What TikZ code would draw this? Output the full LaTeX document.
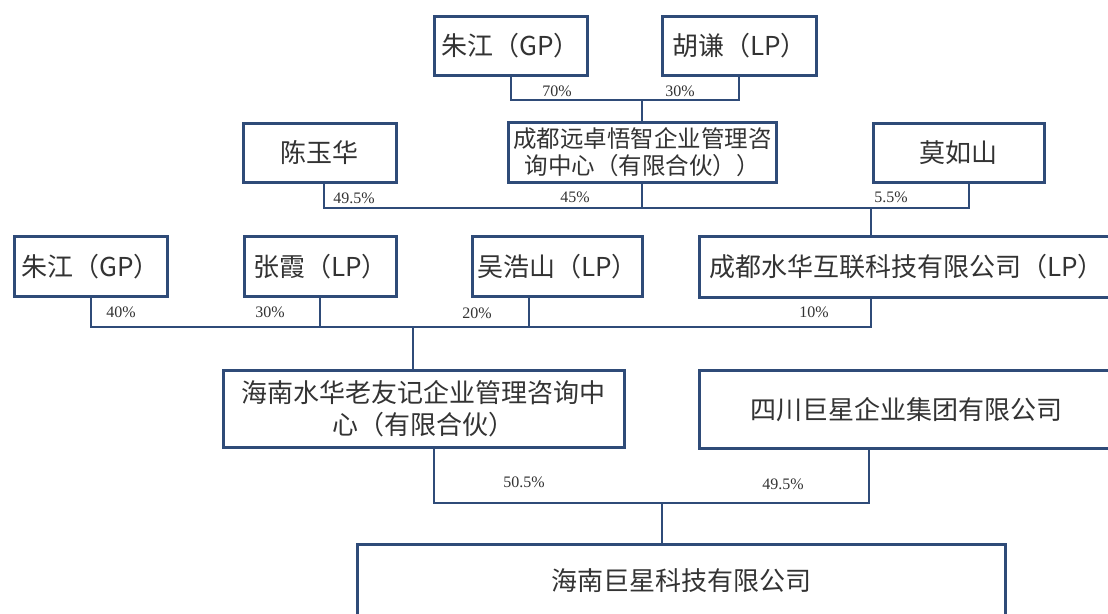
\documentclass[tikz,border=0pt]{standalone}
\usepackage{fontspec}
\setmainfont{Liberation Serif}
\newfontfamily\cjk{Noto Sans CJK SC}
\usetikzlibrary{calc}
\definecolor{lc}{HTML}{2F4B78}
\definecolor{tc}{HTML}{333333}
\begin{document}
\begin{tikzpicture}[x=1pt,y=-1pt,
  box/.style={draw=lc, line width=2.6pt, fill=white, inner sep=0pt, anchor=north west,
    text=tc, font=\cjk\fontsize{26}{32}\selectfont, align=center},
  conn/.style={draw=lc, line width=2.3pt},
  pct/.style={text=tc, font=\fontsize{16}{18}\selectfont, inner sep=0pt}]
\useasboundingbox (0,0) rectangle (1108,613);
\fill[white] (0,0) rectangle (1108,613);
% boxes
\node[box, minimum width=153, minimum height=59] (zj1) at (433,15) {朱江（GP）};
\node[box, minimum width=154, minimum height=59] (hq) at (661,15) {胡谦（LP）};
\node[box, minimum width=153, minimum height=59] (cyh) at (242,122) {陈玉华};
\node[box, minimum width=268, minimum height=60, font=\cjk\fontsize{23.5}{27}\selectfont] (cdyz) at (507,121) {成都远卓悟智企业管理咨\\询中心（有限合伙））};
\node[box, minimum width=171, minimum height=59] (mrs) at (872,122) {莫如山};
\node[box, minimum width=153, minimum height=60] (zj2) at (13,235) {朱江（GP）};
\node[box, minimum width=152, minimum height=60] (zx) at (243,235) {张霞（LP）};
\node[box, minimum width=170, minimum height=60] (whs) at (471,235) {吴浩山（LP）};
\node[box, minimum width=414, minimum height=61] (cdsh) at (698,235) {成都水华互联科技有限公司（LP）};
\node[box, minimum width=401, minimum height=77] (hnsh) at (222,369) {海南水华老友记企业管理咨询中\\心（有限合伙）};
\node[box, minimum width=414, minimum height=78] (scjx) at (698,369) {四川巨星企业集团有限公司};
\node[box, minimum width=648, minimum height=72] (hnjx) at (356,543) {海南巨星科技有限公司};
% junctions
\coordinate (j1) at (642,100);
\coordinate (j2) at (642,208);
\coordinate (j3) at (871,208);
\coordinate (j4) at (413,327);
\coordinate (j5) at (662,503);
% connectors
\draw[conn] (zj1.south) |- (j1) -| (hq.south);
\draw[conn] (j1) -- (cdyz.north |- j1) -- (cdyz.north);
\draw[conn] ($(cyh.south)+(4,0)$) |- (j2) -| ($(mrs.south)+(10,0)$);
\draw[conn] (cdyz.south) -- (cdyz.south |- j2);
\draw[conn] (j3) -- (cdsh.north -| j3);
\draw[conn] (zj2.south) |- (j4) -| (cdsh.south -| j3);
\draw[conn] (zx.south) -- (zx.south |- j4);
\draw[conn] ($(whs.south)+(-28,0)$) coordinate (w) -- (w |- j4);
\draw[conn] (j4) -- (hnsh.north -| j4);
\draw[conn] ($(hnsh.south)+(10,0)$) |- (j5) -| ($(scjx.south)+(-37,0)$);
\draw[conn] (j5) -- (hnjx.north -| j5);
% labels
\node[pct] (p70) at (557,91) {70\%};
\node[pct] (p30a) at (680,91) {30\%};
\node[pct] (p495a) at (354,198) {49.5\%};
\node[pct] (p45) at (575,197) {45\%};
\node[pct] (p55) at (891,197) {5.5\%};
\node[pct] (p40) at (121,312) {40\%};
\node[pct] (p30b) at (270,312) {30\%};
\node[pct] (p20) at (477,313) {20\%};
\node[pct] (p10) at (814,312) {10\%};
\node[pct] (p505) at (524,482) {50.5\%};
\node[pct] (p495b) at (783,484) {49.5\%};
\end{tikzpicture}
\end{document}
